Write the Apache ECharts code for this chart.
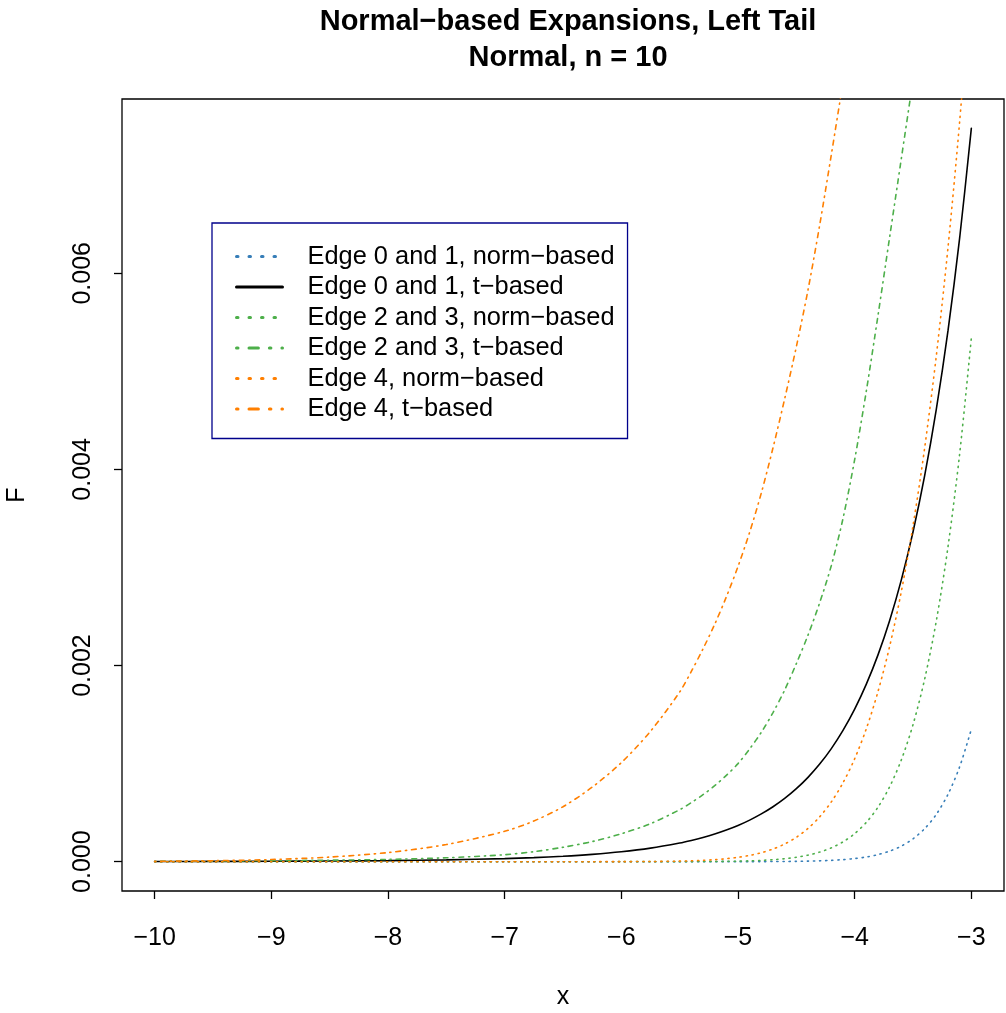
<!DOCTYPE html>
<html>
<head>
<meta charset="utf-8">
<script src="https://cdn.jsdelivr.net/npm/echarts@6/dist/echarts.min.js"></script>
<style>
html,body{margin:0;padding:0;background:#fff;}
#chart{width:1006px;height:1013px;}
</style>
</head>
<body>
<div id="chart"></div>
<script>
// x grid
var xs = [-10, -9.5, -9, -8.5, -8, -7.5, -7, -6.75, -6.5, -6.25, -6, -5.75, -5.5, -5.4, -5.3, -5.2, -5.1, -5, -4.9, -4.8, -4.7, -4.6, -4.5, -4.4, -4.3, -4.2, -4.1, -4, -3.9, -3.8, -3.7, -3.6, -3.5, -3.4, -3.3, -3.2, -3.1, -3];
// Edge 0 and 1, norm-based (blue dotted)
var edge01Norm = [0, 0, 0, 0, 0, 0, 0, 0, 0, 0, 0, 0, 0.00000002, 0.00000003, 0.00000006, 0.0000001, 0.00000017, 0.00000029, 0.00000048, 0.00000079, 0.0000013, 0.0000021, 0.0000034, 0.0000054, 0.0000085, 0.0000133, 0.0000207, 0.0000317, 0.0000481, 0.0000723, 0.000108, 0.000159, 0.000233, 0.000337, 0.000483, 0.000687, 0.000968, 0.00135];
// Edge 0 and 1, t-based (black solid)
var edge01T = [0.00000179, 0.00000274, 0.00000427, 0.0000068, 0.0000111, 0.0000185, 0.0000316, 0.0000418, 0.0000557, 0.0000748, 0.000101, 0.000138, 0.00019, 0.0002165, 0.000247, 0.000282, 0.0003226, 0.000369, 0.000424, 0.000487, 0.00056, 0.000645, 0.000744, 0.00086, 0.000995, 0.001153, 0.001338, 0.001555, 0.00181, 0.002109, 0.00246, 0.002874, 0.003362, 0.003936, 0.004615, 0.005415, 0.00636, 0.007478];
// Edge 2 and 3, norm-based (green dotted)
var edge23Norm = [0, 0, 0, 0, 0, 0, 0, 0, 0, 0, 0.00000004, 0.00000014, 0.00000051, 0.00000084, 0.00000136, 0.00000219, 0.00000349, 0.0000055, 0.0000085, 0.0000132, 0.0000201, 0.0000303, 0.0000452, 0.0000668, 0.0000976, 0.0001411, 0.0002019, 0.000286, 0.000401, 0.000556, 0.000764, 0.001038, 0.001397, 0.001862, 0.002457, 0.003212, 0.00416, 0.005339];
// Edge 2 and 3, t-based (green dash-dot)
var edge23T = [0.000004, 0.000006, 0.00001, 0.000015, 0.000023, 0.00004, 0.000071, 0.000102, 0.000147, 0.000205, 0.000285, 0.000388, 0.00053, 0.000602, 0.000683, 0.000775, 0.00088, 0.001, 0.00115, 0.00132, 0.00152, 0.00175, 0.00202, 0.00231, 0.00264, 0.00302, 0.0035, 0.0041, 0.0048, 0.00557, 0.00637, 0.00717, 0.00797, 0.00877, null, null, null, null];
// Edge 4, norm-based (orange dotted)
var edge4Norm = [0, 0, 0, 0, 0, 0, 0, 0, 0, 0, 0.0000006, 0.0000019, 0.0000059, 0.0000091, 0.0000137, 0.0000205, 0.0000304, 0.0000444, 0.0000641, 0.0000915, 0.0001291, 0.0001801, 0.0002484, 0.0003388, 0.000457, 0.0006096, 0.0008043, 0.00105, 0.001356, 0.001735, 0.002196, 0.002755, 0.003424, 0.00422, 0.00516, 0.006263, 0.007549, 0.009045];
// Edge 4, t-based (orange dash-dot)
var edge4T = [0.000004, 0.00001, 0.000022, 0.000047, 0.000093, 0.000175, 0.00031, 0.000415, 0.00056, 0.00076, 0.00101, 0.00133, 0.00173, 0.00194, 0.00217, 0.00242, 0.0027, 0.00301, 0.00336, 0.00376, 0.00422, 0.00472, 0.00525, 0.00583, 0.00649, 0.00721, 0.00795, 0.0087, null, null, null, null, null, null, null, null, null, null];

var xTicks = [-10, -9, -8, -7, -6, -5, -4, -3];
var yTicks = [0, 0.002, 0.004, 0.006];
var names = ['Edge 0 and 1, norm\u2212based', 'Edge 0 and 1, t\u2212based', 'Edge 2 and 3, norm\u2212based', 'Edge 2 and 3, t\u2212based', 'Edge 4, norm\u2212based', 'Edge 4, t\u2212based'];

var FONT = '"Liberation Sans", Arial, Helvetica, sans-serif';
var dotted = [1.2, 4.9];
var dotdash = [1.2, 4.9, 4.7, 4.9];
var legDotted = [1.5, 11];
var legDotdash = [1.5, 11, 9.4, 11];

function pairs(arr) {
  var out = [];
  for (var i = 0; i < xs.length; i++) out.push([xs[i], arr[i]]);
  return out;
}
function mk(name, arr, color, dash) {
  return {
    name: name, type: 'line', data: pairs(arr), symbol: 'none', showSymbol: false,
    smooth: 0.3, clip: true, connectNulls: false,
    lineStyle: {color: color, width: 1.6, type: dash, cap: 'round'},
    itemStyle: {color: color},
    emphasis: {disabled: true}, animation: false
  };
}
function legItem(name, color, dash) {
  return {name: name, lineStyle: {color: color, width: 3, type: dash, cap: 'round'}, itemStyle: {opacity: 0}};
}
var minus = function (v) { return v < 0 ? '\u2212' + Math.abs(v) : String(v); };

var chart = echarts.init(document.getElementById('chart'), null, {renderer: 'canvas'});
chart.setOption({
  backgroundColor: '#fff',
  animation: false,
  title: [
    {text: 'Normal\u2212based Expansions, Left Tail', left: 563, top: 2, textAlign: 'center',
     textStyle: {fontFamily: FONT, fontSize: 29, fontWeight: 'bold', color: '#000'}},
    {text: 'Normal, n = 10', left: 563, top: 38, textAlign: 'center',
     textStyle: {fontFamily: FONT, fontSize: 29, fontWeight: 'bold', color: '#000'}}
  ],
  grid: {left: 122, right: 2, top: 99, bottom: 122, show: true, borderColor: '#000', borderWidth: 1.3,
         backgroundColor: 'transparent', containLabel: false, outerBoundsMode: 'none'},
  legend: {
    orient: 'vertical', left: 212, top: 223,
    padding: [21, 13, 17, 23], itemGap: 5.5, itemWidth: 46, itemHeight: 16,
    backgroundColor: '#fff', borderColor: '#00008B', borderWidth: 1.3, borderRadius: 0,
    itemStyle: {opacity: 0, borderWidth: 0},
    textStyle: {fontFamily: FONT, fontSize: 25.4, color: '#000', padding: [0, 0, 0, 20]},
    selectedMode: false,
    data: [
      legItem(names[0], '#377EB8', legDotted),
      legItem(names[1], '#000000', 'solid'),
      legItem(names[2], '#4DAF4A', legDotted),
      legItem(names[3], '#4DAF4A', legDotdash),
      legItem(names[4], '#FF7F00', legDotted),
      legItem(names[5], '#FF7F00', legDotdash)
    ]
  },
  xAxis: {
    type: 'value', min: -10.28, max: -2.72,
    name: 'x', nameLocation: 'middle', nameGap: 94,
    nameTextStyle: {fontFamily: FONT, fontSize: 25, color: '#000'},
    axisLine: {show: false, onZero: false},
    axisTick: {show: true, inside: false, length: 8, customValues: xTicks, lineStyle: {color: '#000', width: 1.3}},
    axisLabel: {customValues: xTicks, margin: 35, formatter: minus, fontFamily: FONT, fontSize: 25, color: '#000'},
    splitLine: {show: false}
  },
  yAxis: {
    type: 'value', min: -0.000299, max: 0.007777,
    name: 'F', nameLocation: 'middle', nameGap: 92, nameRotate: 90,
    nameTextStyle: {fontFamily: FONT, fontSize: 25, color: '#000'},
    axisLine: {show: false, onZero: false},
    axisTick: {show: true, inside: false, length: 8, customValues: yTicks, lineStyle: {color: '#000', width: 1.3}},
    axisLabel: {customValues: yTicks, rotate: 90, margin: 26, formatter: function (v) { return v.toFixed(3); }, fontFamily: FONT, fontSize: 25, color: '#000'},
    splitLine: {show: false}
  },
  series: [
    mk(names[0], edge01Norm, '#377EB8', dotted),
    mk(names[1], edge01T, '#000000', 'solid'),
    mk(names[2], edge23Norm, '#4DAF4A', dotted),
    mk(names[3], edge23T, '#4DAF4A', dotdash),
    mk(names[4], edge4Norm, '#FF7F00', dotted),
    mk(names[5], edge4T, '#FF7F00', dotdash)
  ]
});
</script>
</body>
</html>
